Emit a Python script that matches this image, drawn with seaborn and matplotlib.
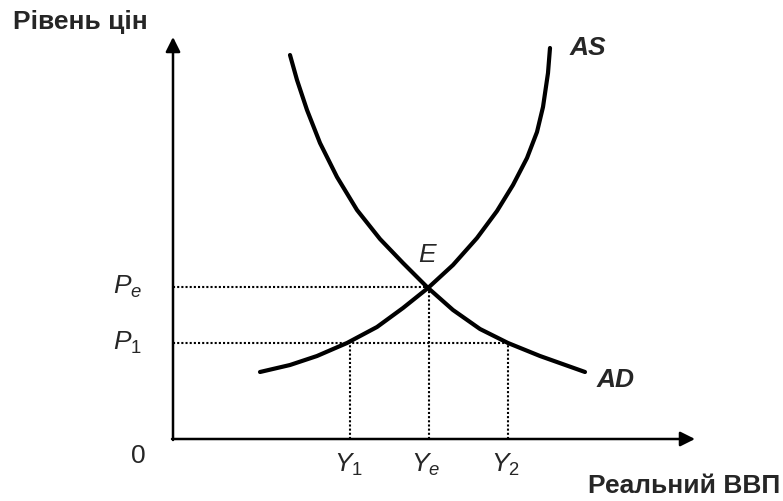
import seaborn as sns
import matplotlib.pyplot as plt

# curve points (origin = corner of the axes)
as_x = [87, 117, 144, 174, 204, 230, 255, 280, 304, 324, 340, 354, 364, 370, 375, 377]
as_y = [67, 74, 83, 96, 112, 131, 151, 174, 201, 228, 254, 281, 307, 332, 366, 391]
ad_x = [117, 124, 134, 147, 164, 184, 207, 230, 254, 280, 307, 335, 367, 412]
ad_y = [384, 359, 329, 296, 262, 229, 200, 176, 152, 129, 110, 96, 83, 67]

# equilibrium and P1 levels, output levels
pe, p1 = 152, 96
y1, ye, y2 = 177, 256, 335

sns.set_style("white")
plt.rcParams['font.family'] = ['Liberation Sans', 'DejaVu Sans']
plt.rcParams['mathtext.fontset'] = 'custom'
plt.rcParams['mathtext.rm'] = 'Liberation Sans'
plt.rcParams['mathtext.it'] = 'Liberation Sans:italic'

fig = plt.figure(figsize=(7.83, 5.01), dpi=100)
ax = fig.add_axes([0, 0, 1, 1])
ax.set_xlim(-173, 610)
ax.set_ylim(-62, 439)
ax.axis('off')

# axes with arrows
arrow = dict(arrowstyle='-|>', color='black', lw=1.8, mutation_scale=22, shrinkA=0, shrinkB=0)
ax.annotate('', xy=(0, 402), xytext=(0, -1), arrowprops=arrow)
ax.annotate('', xy=(522, 0), xytext=(-1, 0), arrowprops=arrow)

# dotted guides
dot = dict(color='black', lw=1.5, linestyle=(0, (1, 1)))
ax.plot([0, ye], [pe, pe], **dot)
ax.plot([0, y2], [p1, p1], **dot)
ax.plot([y1, y1], [0, p1], **dot)
ax.plot([ye, ye], [0, pe], **dot)
ax.plot([y2, y2], [0, p1], **dot)

curve = dict(ax=ax, color='black', lw=3, sort=False, solid_joinstyle='round')
sns.lineplot(x=as_x, y=as_y, **curve)
sns.lineplot(x=ad_x, y=ad_y, **curve)

fs = 19
ax.text(-160, 410, 'Рівень цін', fontsize=fs, fontweight='bold', va='baseline')
ax.text(607, -54, 'Реальний ВВП', fontsize=fs, fontweight='bold', ha='right', va='baseline')
ax.text(397, 384, 'AS', fontsize=fs, fontweight='bold', style='italic', va='baseline')
ax.text(424, 52, 'AD', fontsize=fs, fontweight='bold', style='italic', va='baseline')
ax.text(254, 177, 'E', fontsize=fs, style='italic', ha='center', va='baseline')
ax.text(-60, 145, '$P_e$', fontsize=fs, va='baseline')
ax.text(-60, 89, '$P_1$', fontsize=fs, va='baseline')
ax.text(-34.5, -24, '0', fontsize=fs, ha='center', va='baseline')
ax.text(y1 - 2, -33, '$Y_1$', fontsize=fs, ha='center', va='baseline')
ax.text(ye - 3, -33, '$Y_e$', fontsize=fs, ha='center', va='baseline')
ax.text(y2 - 3, -33, '$Y_2$', fontsize=fs, ha='center', va='baseline')

fig.savefig('out.png', dpi=100)
